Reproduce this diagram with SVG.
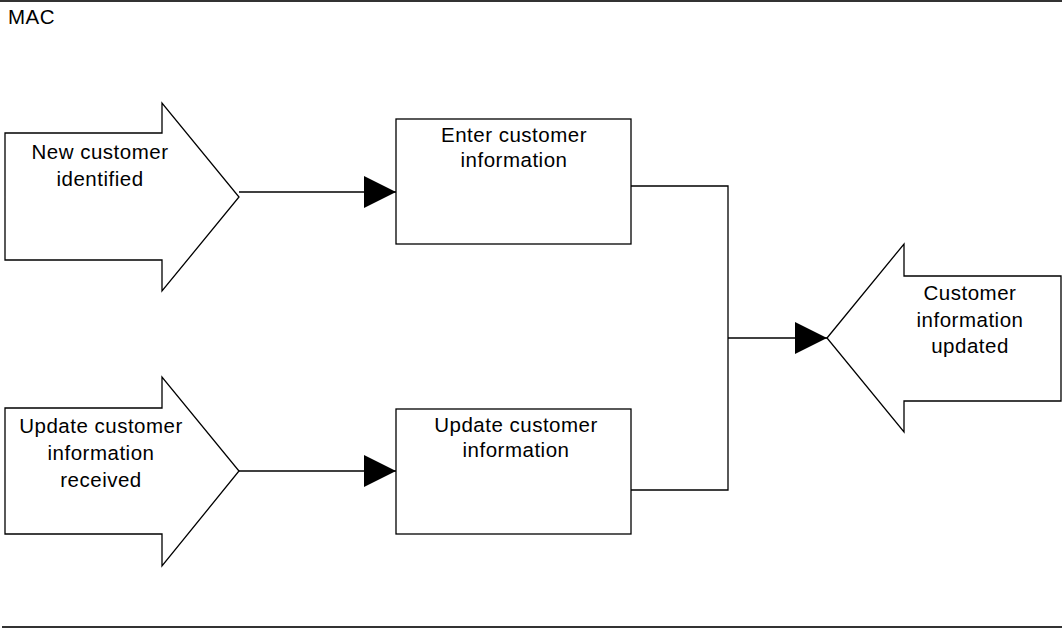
<svg xmlns="http://www.w3.org/2000/svg" width="1062" height="628" viewBox="0 0 1062 628">
  <style>
    .shape { fill: #ffffff; stroke: #000000; stroke-width: 1.3; stroke-linejoin: miter; }
    .lane { stroke: #333333; stroke-width: 2; }
    .conn { fill: none; stroke: #000000; stroke-width: 1.3; }
    .label { font-family: "Liberation Sans", Arial, sans-serif; font-size: 20.5px; letter-spacing: 0.5px; fill: #000000; }
    .mid { text-anchor: middle; }
  </style>
  <defs>
    <marker id="head" viewBox="0 0 32 32" refX="32" refY="16" markerWidth="32" markerHeight="32" markerUnits="userSpaceOnUse" orient="auto">
      <path d="M0,0 L32,16 L0,32 Z" fill="#000000"/>
    </marker>
  </defs>

  <rect width="1062" height="628" fill="#ffffff"/>

  <!-- swimlane -->
  <g id="lane">
    <line class="lane" x1="0" y1="1" x2="1062" y2="1"/>
    <line class="lane" x1="2" y1="627" x2="1062" y2="627"/>
    <text class="label" x="8" y="24">MAC</text>
  </g>

  <!-- connectors -->
  <g id="connectors">
    <line class="conn" x1="239" y1="192" x2="396" y2="192" marker-end="url(#head)"/>
    <line class="conn" x1="239" y1="471" x2="396" y2="471" marker-end="url(#head)"/>
    <polyline class="conn" points="631,186 728,186 728,490 631,490"/>
    <line class="conn" x1="728" y1="338" x2="827" y2="338" marker-end="url(#head)"/>
  </g>

  <!-- start event: new customer -->
  <g id="evt-new-customer">
    <polygon class="shape" points="5,133 162,133 162,103 239,197 162,291 162,260 5,260"/>
    <text class="label mid" x="100" y="159">New customer</text>
    <text class="label mid" x="100" y="186">identified</text>
  </g>

  <!-- start event: update request -->
  <g id="evt-update-received">
    <polygon class="shape" points="5,408 162,408 162,377 239,471 162,566 162,534 5,534"/>
    <text class="label mid" x="101" y="433">Update customer</text>
    <text class="label mid" x="101" y="460">information</text>
    <text class="label mid" x="101" y="487">received</text>
  </g>

  <!-- activity: enter -->
  <g id="act-enter">
    <rect class="shape" x="396" y="119" width="235" height="125"/>
    <text class="label mid" x="514" y="142">Enter customer</text>
    <text class="label mid" x="514" y="167">information</text>
  </g>

  <!-- activity: update -->
  <g id="act-update">
    <rect class="shape" x="396" y="409" width="235" height="125"/>
    <text class="label mid" x="516" y="432">Update customer</text>
    <text class="label mid" x="516" y="457">information</text>
  </g>

  <!-- end event -->
  <g id="evt-updated">
    <polygon class="shape" points="827,338 904,244 904,276 1061,276 1061,401 904,401 904,432"/>
    <text class="label mid" x="970" y="300">Customer</text>
    <text class="label mid" x="970" y="327">information</text>
    <text class="label mid" x="970" y="353">updated</text>
  </g>
</svg>
